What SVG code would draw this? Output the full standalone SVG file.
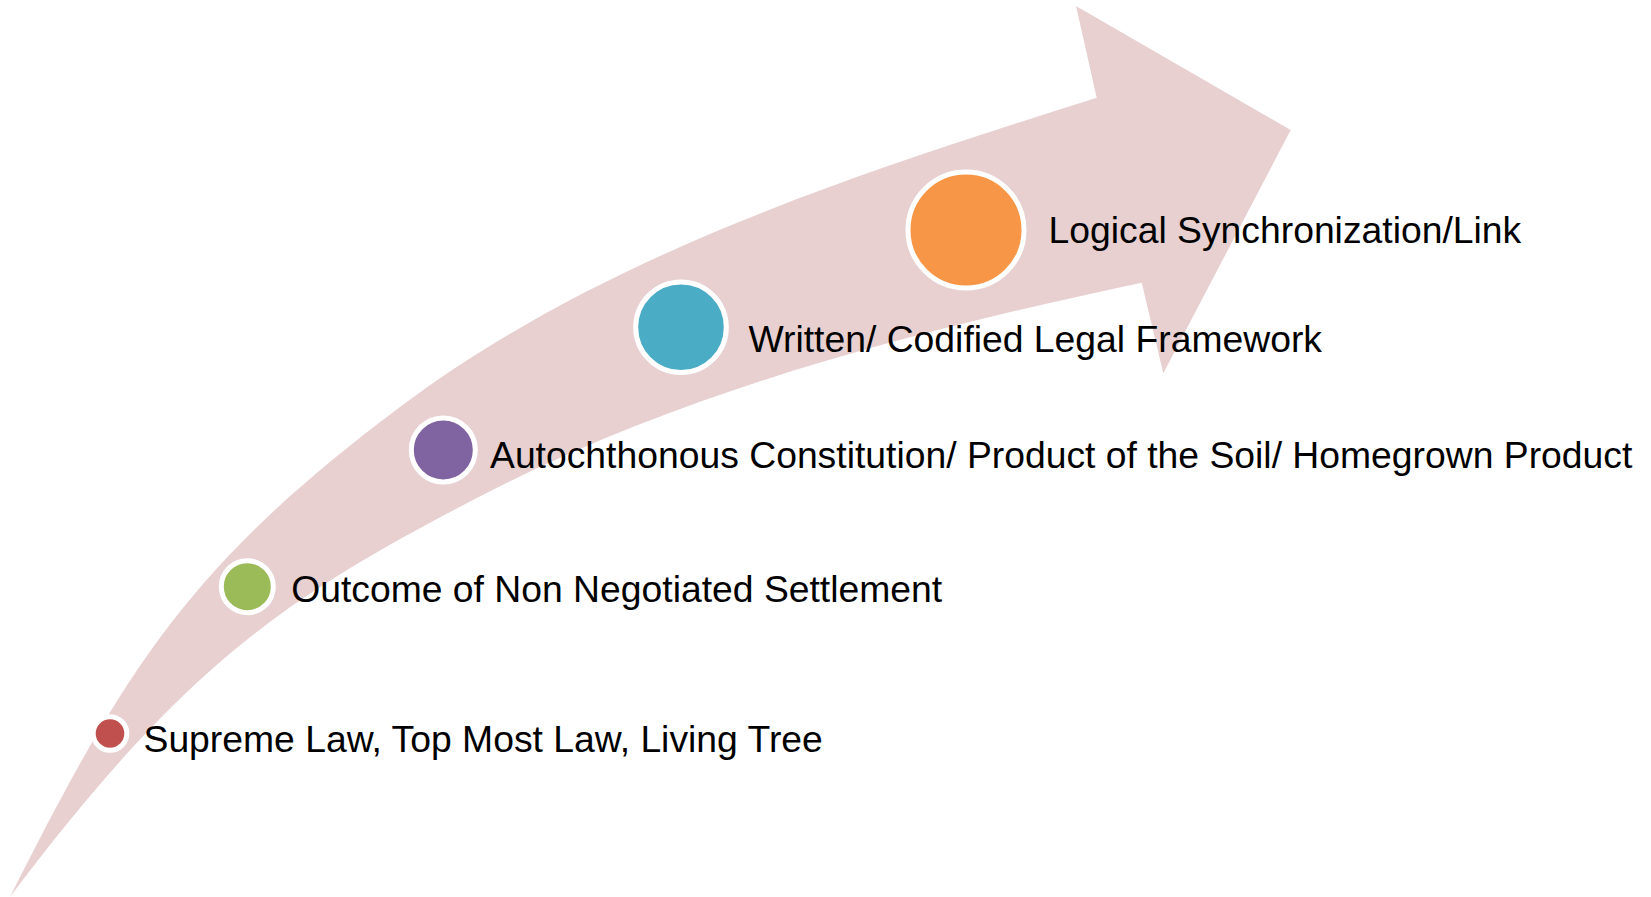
<svg xmlns="http://www.w3.org/2000/svg" width="1651" height="897" viewBox="0 0 1651 897">
<style>
.lbl{font-family:"Liberation Sans",Arial,sans-serif;font-size:37.3px;fill:#000}
.dot{stroke:#fff;stroke-width:5}
</style>
<rect x="0" y="0" width="1651" height="897" fill="#fff"/>
<g id="arrow">
<path fill="#E8D0D1" d="M10,897 C126.7,664.8 192,563 400,407 C603.2,254.6 855,174.7 1096.7,97.7 L1076,6 L1290.7,130 L1163.3,373.3 L1141.7,282.7 C912.9,331.4 680.3,391.4 473,500 C295.8,592.8 190,657 10,897 Z"/>
</g>
<g id="node1">
<circle class="dot" cx="110" cy="733.5" r="16.8" fill="#C0504D"/>
<text class="lbl" x="143.5" y="752">Supreme Law, Top Most Law, Living Tree</text>
</g>
<g id="node2">
<circle class="dot" cx="247.3" cy="586.7" r="26" fill="#9BBB59"/>
<text class="lbl" x="291.2" y="601.7">Outcome of Non Negotiated Settlement</text>
</g>
<g id="node3">
<circle class="dot" cx="443.3" cy="450" r="32" fill="#8064A2"/>
<text class="lbl" x="490" y="468.3">Autochthonous Constitution/ Product of the Soil/ Homegrown Product</text>
</g>
<g id="node4">
<circle class="dot" cx="681" cy="327.3" r="45.3" fill="#4BACC6"/>
<text class="lbl" x="748.5" y="351.5">Written/ Codified Legal Framework</text>
</g>
<g id="node5">
<circle class="dot" cx="966" cy="230" r="58" fill="#F79646"/>
<text class="lbl" x="1048.5" y="243.3">Logical Synchronization/Link</text>
</g>
<g id="connectors"></g>
</svg>
